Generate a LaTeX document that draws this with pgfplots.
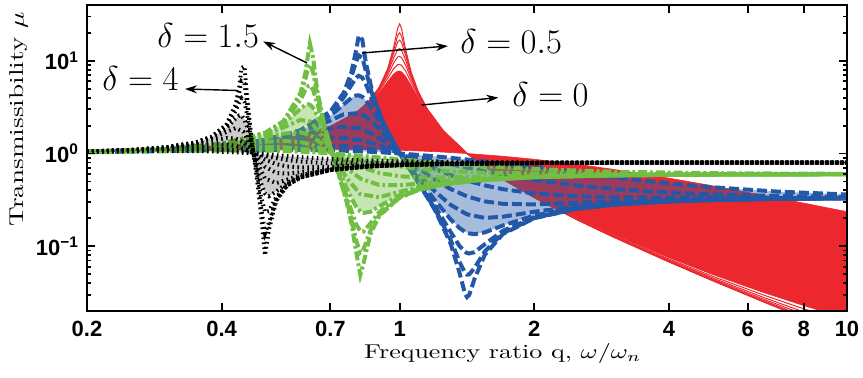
\documentclass[border=0pt]{standalone}
\usepackage{fontspec}
\usepackage{graphicx}
\usepackage{pgfplots}
\usepackage{pgfplotstable}
\pgfplotsset{compat=1.18}
\usetikzlibrary{arrows.meta}
\newfontfamily\tickfont{Liberation Sans}
\definecolor{cred}{RGB}{236,40,46}
\definecolor{cblue}{RGB}{35,88,168}
\definecolor{cgreen}{RGB}{112,190,66}

% delta = 0 : columns zeta = 0.02 0.025 0.03 0.037 0.045 0.055 0.065 1.2
\pgfplotstableread{
q a b c d e f g h
0.2 1.042 1.042 1.042 1.042 1.042 1.042 1.042 1.034
0.3 1.099 1.099 1.099 1.099 1.099 1.099 1.099 1.062
0.4 1.190 1.190 1.190 1.190 1.190 1.190 1.190 1.087
0.5 1.333 1.333 1.333 1.332 1.332 1.332 1.331 1.104
0.6 1.562 1.561 1.561 1.560 1.559 1.558 1.556 1.113
0.7 1.959 1.957 1.956 1.953 1.950 1.945 1.938 1.114
0.8 2.768 2.763 2.757 2.746 2.731 2.709 2.683 1.108
0.85 3.579 3.565 3.549 3.521 3.484 3.430 3.368 1.104
0.9 5.175 5.127 5.070 4.978 4.857 4.690 4.512 1.098
0.94 8.181 7.975 7.744 7.392 6.974 6.457 5.969 1.092
0.97 14.16 13.10 12.08 10.78 9.522 8.245 7.238 1.088
0.99 22.58 18.77 15.99 13.21 11.00 9.087 7.742 1.085
1.0 25.02 20.03 16.70 13.55 11.16 9.146 7.757 1.083
1.01 22.18 18.42 15.69 12.96 10.79 8.912 7.593 1.082
1.03 13.61 12.56 11.55 10.28 9.055 7.824 6.859 1.078
1.06 7.660 7.446 7.209 6.852 6.434 5.925 5.453 1.073
1.1 4.665 4.614 4.553 4.455 4.328 4.156 3.976 1.066
1.15 3.073 3.058 3.039 3.009 2.968 2.910 2.844 1.056
1.25 1.773 1.770 1.767 1.762 1.754 1.743 1.730 1.036
1.4142 1 1 1 1 1 1 1 1
1.7 0.5300 0.5305 0.5311 0.5321 0.5335 0.5357 0.5382 0.9342
2 0.3343 0.3348 0.3355 0.3366 0.3381 0.3404 0.3431 0.8662
2.5 0.1914 0.1919 0.1925 0.1936 0.1951 0.1973 0.1999 0.7630
3 0.1259 0.1264 0.1270 0.1280 0.1294 0.1315 0.1340 0.6754
4 0.06751 0.06798 0.06855 0.06951 0.07083 0.07280 0.07510 0.5420
5 0.04249 0.04295 0.04350 0.04442 0.04568 0.04754 0.04968 0.4488
6.5 0.02505 0.02549 0.02602 0.02690 0.02808 0.02980 0.03173 0.3545
8 0.01667 0.01710 0.01761 0.01845 0.01956 0.02114 0.02290 0.2919
10 0.01088 0.01129 0.01178 0.01257 0.01359 0.01502 0.01657 0.2358
}\redT

% delta = 0 : band between zeta = 0.065 (forward) and zeta = 1.2 (back)
\pgfplotstableread{
q y
0.2 1.042
0.3 1.099
0.4 1.190
0.5 1.331
0.6 1.556
0.7 1.938
0.8 2.683
0.85 3.368
0.9 4.512
0.94 5.969
0.97 7.238
0.99 7.742
1.0 7.757
1.01 7.593
1.03 6.859
1.06 5.453
1.1 3.976
1.15 2.844
1.25 1.730
1.4142 1
1.7 0.5382
2 0.3431
2.5 0.1999
3 0.1340
4 0.07510
5 0.04968
6.5 0.03173
8 0.02290
10 0.01657
10 0.2358
8 0.2919
6.5 0.3545
5 0.4488
4 0.5420
3 0.6754
2.5 0.7630
2 0.8662
1.7 0.9342
1.4142 1
1.25 1.036
1.15 1.056
1.1 1.066
1.06 1.073
1.03 1.078
1.01 1.082
1.0 1.083
0.99 1.085
0.97 1.088
0.94 1.092
0.9 1.098
0.85 1.104
0.8 1.108
0.7 1.114
0.6 1.113
0.5 1.104
0.4 1.087
0.3 1.062
0.2 1.034
}\redPoly

% delta = 0.5 : zeta = 0.02 0.035 0.06 0.1
\pgfplotstableread{
q a b c d
0.2 1.0426 1.0426 1.0426 1.0425
0.3 1.1040 1.1040 1.1039 1.1036
0.4 1.2104 1.2103 1.2098 1.2084
0.5 1.3997 1.3989 1.3969 1.3914
0.6 1.7810 1.7776 1.7679 1.7433
0.7 2.8353 2.8075 2.7327 2.5621
0.75 4.5214 4.3721 4.0172 3.3899
0.78 7.5052 6.7726 5.4822 3.9878
0.8 13.289 9.9145 6.6033 4.2357
0.81 18.651 11.454 6.894 4.2464
0.825 16.90 10.781 6.5924 4.0886
0.84 9.6187 7.8417 5.6224 3.7594
0.87 4.4544 4.2078 3.6871 2.9279
0.92 2.1241 2.0939 2.0158 1.8549
1.0 1 1 1 1
1.1 0.48695 0.49160 0.50444 0.53559
1.2 0.24469 0.25135 0.26936 0.31132
1.3 0.10645 0.11689 0.14253 0.19443
1.36 0.05228 0.06827 0.10084 0.15720
1.4 0.030639 0.05149 0.08689 0.14321
1.4142 0.028273 0.04944 0.08455 0.14003
1.43 0.029712 0.04956 0.08343 0.13746
1.47 0.04444 0.05821 0.08623 0.13484
1.55 0.08085 0.08773 0.10498 0.14095
1.7 0.13496 0.13803 0.14651 0.16706
2 0.20061 0.20187 0.20545 0.21472
2.5 0.25399 0.25453 0.25608 0.26020
3 0.28015 0.28046 0.28136 0.28376
4 0.30442 0.30457 0.30500 0.30614
5 0.31511 0.31520 0.31545 0.31614
7 0.32416 0.32420 0.32433 0.32465
10 0.32887 0.32889 0.32895 0.32910
}\blueLo
% delta = 0.5 : zeta = 0.16 0.26 0.42 0.7 1.2
\pgfplotstableread{
q e f g h i
0.2 1.0424 1.0421 1.0413 1.0392 1.0339
0.3 1.1028 1.1009 1.0963 1.0850 1.0627
0.4 1.2052 1.1971 1.1787 1.1409 1.0860
0.5 1.3788 1.3485 1.2889 1.1941 1.0977
0.6 1.6896 1.5785 1.4106 1.2257 1.0962
0.7 2.2696 1.8616 1.4838 1.2186 1.0830
0.75 2.6460 1.9464 1.4725 1.1987 1.0727
0.8165 2.7405 1.8616 1.3946 1.1576 1.0563
0.87 2.2001 1.6280 1.2908 1.1158 1.0412
0.92 1.6222 1.3647 1.1782 1.0725 1.0259
1.0 1 1 1 1 1
1.1 0.59597 0.69814 0.81561 0.91247 0.96614
1.2 0.38894 0.51925 0.68076 0.83425 0.93196
1.3 0.27914 0.41350 0.58549 0.76719 0.89839
1.4142 0.22069 0.34511 0.51068 0.70353 0.86155
1.55 0.20195 0.30479 0.45256 0.64297 0.82046
1.7 0.20799 0.28685 0.41229 0.59096 0.77885
2 0.23553 0.28251 0.37065 0.51883 0.70740
2.5 0.26989 0.29393 0.34601 0.45110 0.61783
3 0.28949 0.30419 0.33822 0.41460 0.55497
4 0.30891 0.31621 0.33405 0.37869 0.47671
5 0.31780 0.32220 0.33323 0.36225 0.43258
7 0.32545 0.32759 0.33304 0.34803 0.38816
10 0.32948 0.33050 0.33313 0.34052 0.36153
}\blueHi
% delta = 0.5 : band between zeta = 0.1 and zeta = 1.2
\pgfplotstableread{
q y
0.2 1.0425
0.3 1.1036
0.4 1.2084
0.5 1.3914
0.6 1.7433
0.7 2.5621
0.75 3.3899
0.78 3.9878
0.8 4.2357
0.81 4.2464
0.825 4.0886
0.84 3.7594
0.87 2.9279
0.92 1.8549
1.0 1
1.1 0.53559
1.2 0.31132
1.3 0.19443
1.36 0.15720
1.4 0.14321
1.4142 0.14003
1.43 0.13746
1.47 0.13484
1.55 0.14095
1.7 0.16706
2 0.21472
2.5 0.26020
3 0.28376
4 0.30614
5 0.31614
7 0.32465
10 0.32910
10 0.36153
7 0.38816
5 0.43258
4 0.47671
3 0.55497
2.5 0.61783
2 0.70740
1.7 0.77885
1.55 0.82046
1.4142 0.86155
1.3 0.89839
1.2 0.93196
1.1 0.96614
1.0 1
0.92 1.0259
0.87 1.0412
0.8165 1.0563
0.75 1.0727
0.7 1.0830
0.6 1.0962
0.5 1.0977
0.4 1.0860
0.3 1.0627
0.2 1.0339
}\bluePoly

% delta = 1.5 : zeta = 0.02 0.035 0.06 0.1
\pgfplotstableread{
q a b c d
0.2 1.0444 1.0444 1.0444 1.0444
0.3 1.1161 1.1161 1.1159 1.1155
0.4 1.2665 1.2662 1.2652 1.2625
0.5 1.6652 1.6621 1.6533 1.6309
0.55 2.2338 2.2191 2.1789 2.0837
0.6 4.4791 4.2588 3.7785 3.0434
0.615 7.2543 6.2648 4.7861 3.3441
0.625 12.105 8.389 5.3553 3.4009
0.63 15.378 9.0907 5.4167 3.3573
0.64 11.013 7.638 4.8864 3.1198
0.655 4.6330 4.1871 3.4124 2.5360
0.68 1.9425 1.9011 1.8010 1.6198
0.72 0.75407 0.75947 0.77376 0.80490
0.76 0.30787 0.32158 0.35687 0.43122
0.78 0.17780 0.19672 0.24193 0.32879
0.8 0.08525 0.11420 0.17116 0.26559
0.8165 0.04893 0.08542 0.14541 0.23792
0.83 0.06509 0.09245 0.14406 0.22847
0.86 0.13496 0.14671 0.17585 0.23532
0.9 0.21254 0.21817 0.23344 0.26944
1.0 0.33428 0.33622 0.34171 0.35586
1.1 0.40296 0.40397 0.40685 0.41444
1.25 0.46262 0.46314 0.46462 0.46857
1.5 0.51363 0.51388 0.51460 0.51651
2 0.55561 0.55571 0.55600 0.55678
3 0.58142 0.58145 0.58156 0.58184
5 0.59350 0.59350 0.59350 0.59364
10 0.59839 0.59839 0.59839 0.59839
}\greenLo
% delta = 1.5 : zeta = 0.16 0.26 0.42 0.7 1.2
\pgfplotstableread{
q e f g h i
0.2 1.0442 1.0439 1.0430 1.0406 1.0348
0.3 1.1145 1.1118 1.1056 1.0909 1.0639
0.4 1.2562 1.2408 1.2084 1.1502 1.0816
0.5 1.5824 1.4835 1.3374 1.1817 1.0762
0.55 1.9089 1.6408 1.3696 1.1689 1.0643
0.6 2.3026 1.6965 1.3280 1.1321 1.0473
0.6325 2.2145 1.5743 1.2516 1.0973 1.0341
0.68 1.4036 1.2106 1.0947 1.0367 1.0129
0.72 0.85371 0.91242 0.95700 0.98256 0.99377
0.76 0.54812 0.70183 0.83876 0.93012 0.97423
0.8165 0.36490 0.53718 0.71707 0.86383 0.94671
0.9 0.33756 0.45707 0.61711 0.78695 0.90791
1.0 0.38705 0.45440 0.56861 0.72453 0.86621
1.1 0.43193 0.47319 0.55353 0.68487 0.83041
1.25 0.47791 0.50124 0.55187 0.65038 0.78700
1.5 0.52110 0.53297 0.56087 0.62414 0.73587
2 0.55868 0.56370 0.57613 0.60799 0.67952
3 0.58253 0.58437 0.58906 0.60196 0.63622
5 0.59387 0.59447 0.59603 0.60044 0.61318
10 0.59849 0.59863 0.59900 0.60008 0.60331
}\greenHi
% delta = 1.5 : band between zeta = 0.1 and zeta = 1.2
\pgfplotstableread{
q y
0.2 1.0444
0.3 1.1155
0.4 1.2625
0.5 1.6309
0.55 2.0837
0.6 3.0434
0.615 3.3441
0.625 3.4009
0.63 3.3573
0.64 3.1198
0.655 2.5360
0.68 1.6198
0.72 0.80490
0.76 0.43122
0.78 0.32879
0.8 0.26559
0.8165 0.23792
0.83 0.22847
0.86 0.23532
0.9 0.26944
1.0 0.35586
1.1 0.41444
1.25 0.46857
1.5 0.51651
2 0.55678
3 0.58184
5 0.59364
10 0.59839
10 0.60331
5 0.61318
3 0.63622
2 0.67952
1.5 0.73587
1.25 0.78700
1.1 0.83041
1.0 0.86621
0.9 0.90791
0.8165 0.94671
0.76 0.97423
0.72 0.99377
0.68 1.0129
0.6325 1.0341
0.6 1.0473
0.55 1.0643
0.5 1.0762
0.4 1.0816
0.3 1.0639
0.2 1.0348
}\greenPoly

% delta = 4 : zeta = 0.02 0.035 0.06 0.1
\pgfplotstableread{
q a b c d
0.2 1.0500 1.0500 1.0499 1.0499
0.25 1.0909 1.0909 1.0907 1.0905
0.3 1.1636 1.1634 1.1630 1.1619
0.35 1.3158 1.3150 1.3129 1.3073
0.38 1.5181 1.5155 1.5081 1.4892
0.41 2.0457 2.0292 1.9847 1.8830
0.43 3.3702 3.2251 2.9029 2.3964
0.438 5.2560 4.5989 3.5850 2.5725
0.443 8.361 5.9941 3.9289 2.5678
0.45 8.709 5.6830 3.5636 2.3138
0.455 4.3696 3.6871 2.7781 1.9940
0.465 1.6385 1.5898 1.4845 1.3290
0.48 0.52685 0.54794 0.59850 0.68944
0.49 0.21933 0.25756 0.33929 0.47362
0.5 0.07975 0.13865 0.23337 0.37139
0.51 0.15027 0.17816 0.23913 0.34572
0.53 0.30960 0.31770 0.33947 0.38939
0.56 0.44927 0.45210 0.46004 0.48012
0.6 0.55057 0.55174 0.55507 0.56378
0.7 0.66223 0.66255 0.66348 0.66597
0.85 0.72350 0.72361 0.72395 0.72483
1.0 0.75003 0.75009 0.75026 0.75073
1.3 0.77315 0.77315 0.77327 0.77347
2 0.78948 0.78948 0.78948 0.78950
3 0.79546 0.79546 0.79546 0.79547
5 0.79839 0.79839 0.79839 0.79840
10 0.79960 0.79960 0.79960 0.79960
}\blackLo
% delta = 4 : zeta = 0.16 0.26 0.42 0.7 1.2
\pgfplotstableread{
q e f g h i
0.2 1.0497 1.0492 1.0479 1.0447 1.0370
0.25 1.0898 1.0879 1.0835 1.0728 1.0526
0.3 1.1591 1.1523 1.1369 1.1062 1.0632
0.35 1.2945 1.2649 1.2103 1.1321 1.0623
0.38 1.4486 1.3673 1.2508 1.1317 1.0542
0.41 1.7087 1.4680 1.2524 1.1094 1.0404
0.43 1.8765 1.4543 1.2067 1.0811 1.0286
0.4472 1.7187 1.3191 1.1330 1.0498 1.0172
0.465 1.1859 1.0860 1.0360 1.0135 1.0047
0.48 0.79804 0.89524 0.95324 0.98198 0.99370
0.5 0.53905 0.72083 0.85929 0.94174 0.97898
0.53 0.47846 0.61710 0.76812 0.89011 0.95746
0.56 0.52246 0.60579 0.72513 0.85138 0.93747
0.6 0.58351 0.62816 0.70759 0.81747 0.91406
0.7 0.67188 0.68676 0.71948 0.78387 0.87191
0.85 0.72697 0.73255 0.74599 0.77799 0.83900
1.0 0.75185 0.75483 0.76222 0.78118 0.82360
1.3 0.77396 0.77528 0.77861 0.78767 0.81104
2 0.78974 0.79018 0.79132 0.79453 0.80366
3 0.79550 0.79560 0.79621 0.79754 0.80145
5 0.79840 0.79842 0.79850 0.79870 0.80049
10 0.79960 0.79961 0.79962 0.79965 0.80012
}\blackHi
% delta = 4 : band between zeta = 0.1 and zeta = 1.2
\pgfplotstableread{
q y
0.2 1.0499
0.25 1.0905
0.3 1.1619
0.35 1.3073
0.38 1.4892
0.41 1.8830
0.43 2.3964
0.438 2.5725
0.443 2.5678
0.45 2.3138
0.455 1.9940
0.465 1.3290
0.48 0.68944
0.49 0.47362
0.5 0.37139
0.51 0.34572
0.53 0.38939
0.56 0.48012
0.6 0.56378
0.7 0.66597
0.85 0.72483
1.0 0.75073
1.3 0.77347
2 0.78950
3 0.79547
5 0.79840
10 0.79960
10 0.80012
5 0.80049
3 0.80145
2 0.80366
1.3 0.81104
1.0 0.82360
0.85 0.83900
0.7 0.87191
0.6 0.91406
0.56 0.93747
0.53 0.95746
0.5 0.97898
0.48 0.99370
0.465 1.0047
0.4472 1.0172
0.43 1.0286
0.41 1.0404
0.38 1.0542
0.35 1.0623
0.3 1.0632
0.25 1.0526
0.2 1.0370
}\blackPoly

\pgfplotsset{
  redl/.style={cred, line width=0.5pt},
  bluel/.style={cblue, line width=2pt, dash pattern=on 5pt off 2pt},
  greenl/.style={cgreen, line width=2pt, dash pattern=on 4.5pt off 1.5pt on 1.4pt off 1.5pt},
  blackl/.style={black, line width=2pt, dash pattern=on 0.8pt off 1.7pt},
}

\begin{document}
\begin{tikzpicture}
\begin{axis}[
  at={(0pt,0pt)}, anchor=south west,
  scale only axis, width=380pt, height=153pt,
  xmode=log, ymode=log,
  xmin=0.2, xmax=10, ymin=0.02, ymax=40,
  xtick={0.2,0.4,0.7,1,2,4,6,8,10},
  xticklabels={0.2,0.4,0.7,1,2,4,6,8,10},
  xminorticks=false,
  ytick={0.1,1,10},
  yticklabels={10\textsuperscript{−1},10\textsuperscript{0},10\textsuperscript{1}},
  minor ytick={0.02,0.03,0.04,0.05,0.06,0.07,0.08,0.09,0.2,0.3,0.4,0.5,0.6,0.7,0.8,0.9,2,3,4,5,6,7,8,9,20,30},
  tick align=inside,
  major tick length=4pt, minor tick length=2.2pt,
  every tick/.style={black, line width=0.9pt},
  axis line style={line width=1.3pt},
  axis on top,
  ticklabel style={font=\tickfont\bfseries\fontsize{11}{12}\selectfont},
  xticklabel style={yshift=-1.5pt},
  yticklabel style={xshift=-0.5pt},
  xlabel={\scalebox{1.3}[1]{Frequency ratio q, $\omega/\omega_n$}},
  ylabel={\scalebox{1.36}[1]{Transmissibility $\mu$}},
  xlabel style={font=\normalsize, at={(rel axis cs:0.547,-0.154)}, anchor=base, inner sep=0pt},
  ylabel style={font=\normalsize, at={(rel axis cs:-0.083,0.627)}, anchor=base, inner sep=0pt},
]
% delta = 0
\addplot[fill=cred, draw=cred, line width=0.3pt] table[x=q,y=y] {\redPoly};
\addplot[redl] table[x=q,y=a] {\redT};
\addplot[redl] table[x=q,y=b] {\redT};
\addplot[redl] table[x=q,y=c] {\redT};
\addplot[redl] table[x=q,y=d] {\redT};
\addplot[redl] table[x=q,y=e] {\redT};
\addplot[redl] table[x=q,y=f] {\redT};
% delta = 0.5
\addplot[fill=cblue, fill opacity=0.4, draw=none] table[x=q,y=y] {\bluePoly};
\addplot[bluel] table[x=q,y=a] {\blueLo};
\addplot[bluel] table[x=q,y=b] {\blueLo};
\addplot[bluel] table[x=q,y=c] {\blueLo};
\addplot[bluel] table[x=q,y=d] {\blueLo};
\addplot[bluel] table[x=q,y=e] {\blueHi};
\addplot[bluel] table[x=q,y=f] {\blueHi};
\addplot[bluel] table[x=q,y=g] {\blueHi};
\addplot[bluel] table[x=q,y=h] {\blueHi};
\addplot[bluel] table[x=q,y=i] {\blueHi};
% delta = 1.5
\addplot[fill=cgreen, fill opacity=0.4, draw=none] table[x=q,y=y] {\greenPoly};
\addplot[greenl] table[x=q,y=a] {\greenLo};
\addplot[greenl] table[x=q,y=b] {\greenLo};
\addplot[greenl] table[x=q,y=c] {\greenLo};
\addplot[greenl] table[x=q,y=d] {\greenLo};
\addplot[greenl] table[x=q,y=e] {\greenHi};
\addplot[greenl] table[x=q,y=f] {\greenHi};
\addplot[greenl] table[x=q,y=g] {\greenHi};
\addplot[greenl] table[x=q,y=h] {\greenHi};
\addplot[greenl] table[x=q,y=i] {\greenHi};
% delta = 4
\addplot[fill=black, fill opacity=0.2, draw=none] table[x=q,y=y] {\blackPoly};
\addplot[blackl] table[x=q,y=a] {\blackLo};
\addplot[blackl] table[x=q,y=b] {\blackLo};
\addplot[blackl] table[x=q,y=c] {\blackLo};
\addplot[blackl] table[x=q,y=d] {\blackLo};
\addplot[blackl] table[x=q,y=e] {\blackHi};
\addplot[blackl] table[x=q,y=f] {\blackHi};
\addplot[blackl] table[x=q,y=g] {\blackHi};
\addplot[blackl] table[x=q,y=h] {\blackHi};
\addplot[blackl] table[x=q,y=i] {\blackHi};
% annotations
\node[anchor=base west, font=\LARGE, inner sep=0pt] at (rel axis cs:0.0921,0.8627) {$\delta = 1.5$};
\node[anchor=base west, font=\LARGE, inner sep=0pt] at (rel axis cs:0.0197,0.7222) {$\delta = 4$};
\node[anchor=base west, font=\LARGE, inner sep=0pt] at (rel axis cs:0.4908,0.8399) {$\delta = 0.5$};
\node[anchor=base west, font=\LARGE, inner sep=0pt] at (rel axis cs:0.5592,0.6699) {$\delta = 0$};
\draw[-{Stealth[length=6pt,width=4pt]}, line width=0.7pt] (rel axis cs:0.2895,0.8105) -- (rel axis cs:0.2320,0.8810);
\draw[-{Stealth[length=6pt,width=4pt]}, line width=0.7pt] (rel axis cs:0.1987,0.7206) -- (rel axis cs:0.1289,0.7255);
\draw[-{Stealth[length=6pt,width=4pt]}, line width=0.7pt] (rel axis cs:0.3618,0.8431) -- (rel axis cs:0.4750,0.8660);
\draw[-{Stealth[length=6pt,width=4pt]}, line width=0.7pt] (rel axis cs:0.4404,0.6732) -- (rel axis cs:0.5412,0.6974);
\end{axis}
\pgfresetboundingbox
\path[use as bounding box] (-43.5pt,-33pt) rectangle (388pt,155.5pt);
\end{tikzpicture}
\end{document}
